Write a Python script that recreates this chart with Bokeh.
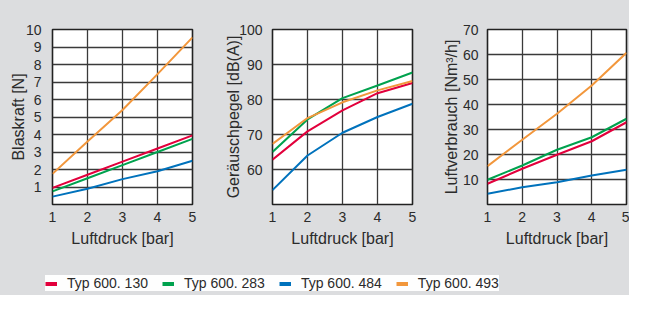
from bokeh.plotting import figure
from bokeh.layouts import column, row
from bokeh.models import FixedTicker, Range1d, Legend, LegendItem
from bokeh.embed import file_html
from bokeh.resources import INLINE

pressure = [1, 2, 3, 4, 5]
series_names = ["Typ 600. 130", "Typ 600. 283", "Typ 600. 484", "Typ 600. 493"]
series_colors = ["#e2003c", "#00a24e", "#0072bc", "#f2973c"]

blaskraft_130 = [0.95, 1.7, 2.45, 3.2, 3.95]
blaskraft_283 = [0.75, 1.5, 2.25, 3.0, 3.75]
blaskraft_484 = [0.45, 0.9, 1.45, 1.9, 2.5]
blaskraft_493 = [1.75, 3.6, 5.4, 7.45, 9.55]

geraeusch_130 = [62.8, 70.9, 76.9, 81.8, 84.7]
geraeusch_283 = [65.0, 74.3, 80.4, 84.0, 87.7]
geraeusch_484 = [54.1, 64.0, 70.5, 75.0, 78.8]
geraeusch_493 = [67.3, 74.7, 79.2, 82.6, 85.3]

luft_130 = [8.3, 14.3, 19.9, 25.3, 32.9]
luft_283 = [9.9, 15.6, 21.9, 26.9, 34.3]
luft_484 = [4.3, 6.9, 8.9, 11.6, 13.9]
luft_493 = [15.3, 25.9, 36.3, 47.6, 60.7]

blaskraft_ticks = [1, 2, 3, 4, 5, 6, 7, 8, 9, 10]
geraeusch_ticks = [60, 70, 80, 90, 100]
luft_ticks = [10, 20, 30, 40, 50, 60, 70]
x_ticks = [1, 2, 3, 4, 5]

FONT = "Liberation Sans"
BG = "#dcdddf"
TXT = "#2b2b2b"
GRID = "#3a3a3a"


def make_panel(series, y_lo, y_hi, yticks, ylabel, width, left, right,
               label_standoff, tick_standoff):
    p = figure(width=width, height=255, output_backend="svg", toolbar_location=None,
               x_range=Range1d(1, 5), y_range=Range1d(y_lo, y_hi),
               min_border_left=left, min_border_right=right,
               min_border_top=29, min_border_bottom=51)
    p.border_fill_color = BG
    p.background_fill_color = "white"
    p.outline_line_color = "#222222"
    p.outline_line_width = 1.6
    p.xaxis.ticker = FixedTicker(ticks=x_ticks)
    p.yaxis.ticker = FixedTicker(ticks=yticks)
    for ax in (p.xaxis[0], p.yaxis[0]):
        ax.axis_line_color = None
        ax.major_tick_line_color = None
        ax.minor_tick_line_color = None
        ax.major_label_text_font = FONT
        ax.major_label_text_font_size = "14px"
        ax.major_label_text_color = TXT
        ax.axis_label_text_font = FONT
        ax.axis_label_text_font_size = "16px"
        ax.axis_label_text_font_style = "normal"
        ax.axis_label_text_color = TXT
    p.xaxis.major_label_standoff = 1
    p.yaxis.major_label_standoff = tick_standoff
    p.xaxis.axis_label = "Luftdruck [bar]"
    p.xaxis.axis_label_standoff = 5
    p.yaxis.axis_label = ylabel
    p.yaxis.axis_label_standoff = label_standoff
    p.xgrid.ticker = FixedTicker(ticks=x_ticks)
    p.ygrid.ticker = FixedTicker(ticks=yticks)
    for g in (p.xgrid[0], p.ygrid[0]):
        g.grid_line_color = GRID
        g.grid_line_width = 1.3
    order = [2, 1, 0, 3]
    for i in order:
        p.line(pressure, series[i], line_color=series_colors[i], line_width=2)
    return p


p1 = make_panel([blaskraft_130, blaskraft_283, blaskraft_484, blaskraft_493],
                0, 10, blaskraft_ticks, "Blaskraft [N]", 217, 52, 25, -4, 5)
p2 = make_panel([geraeusch_130, geraeusch_283, geraeusch_484, geraeusch_493],
                50, 100, geraeusch_ticks, "Geräuschpegel [dB(A)]", 215, 55, 20, -6, 4)
p3 = make_panel([luft_130, luft_283, luft_484, luft_493],
                0, 70, luft_ticks, "Luftverbrauch [Nm³/h]", 197, 55, 3, 0, 3)

pl = figure(width=629, height=40, output_backend="svg", toolbar_location=None,
            min_border=0, x_range=Range1d(0, 1), y_range=Range1d(0, 1))
pl.axis.visible = False
pl.grid.visible = False
pl.outline_line_color = None
pl.border_fill_color = BG
pl.background_fill_color = BG
items = []
for name, col in zip(series_names, series_colors):
    r = pl.line([2, 3], [2, 3], line_color=col, line_width=4)
    items.append(LegendItem(label=name, renderers=[r]))
leg = Legend(items=items, orientation="horizontal", location=(45, 4),
             background_fill_color="white", border_line_color=None,
             padding=5, margin=0, spacing=14, label_standoff=10,
             glyph_width=12, glyph_height=11, label_height=11,
             label_text_font=FONT, label_text_font_size="14px", label_text_color=TXT)
pl.add_layout(leg)

layout = column(row(p1, p2, p3, spacing=0), pl, spacing=0,
                styles={"background-color": BG})
open("out.html", "w").write(file_html(layout, INLINE))
